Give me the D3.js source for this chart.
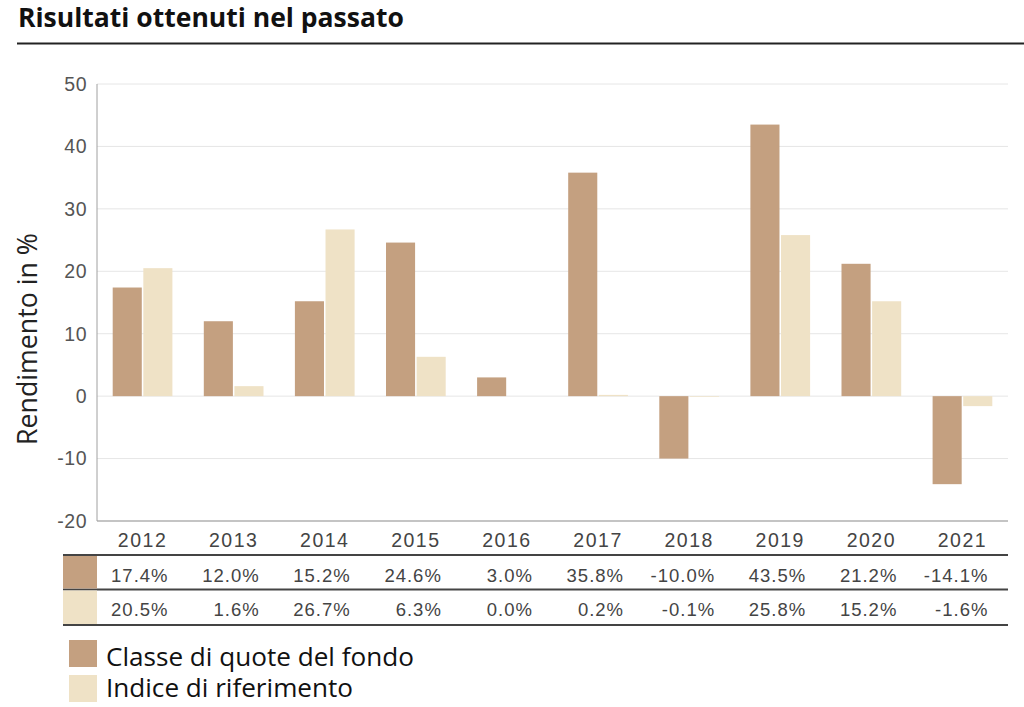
<!DOCTYPE html>
<html><head><meta charset="utf-8">
<script src="https://cdn.jsdelivr.net/npm/d3@7/dist/d3.min.js"></script>
<style>body{margin:0;background:#fff}svg{display:block}</style>
</head><body>
<svg id="c" width="1024" height="707"></svg>
<script>
const years = ["2012","2013","2014","2015","2016","2017","2018","2019","2020","2021"];
const fundValues = [17.4, 12.0, 15.2, 24.6, 3.0, 35.8, -10.0, 43.5, 21.2, -14.1];
const indexValues = [20.5, 1.6, 26.7, 6.3, 0.0, 0.2, -0.1, 25.8, 15.2, -1.6];
const yTicks = [-20, -10, 0, 10, 20, 30, 40, 50];
const seriesNames = ["Classe di quote del fondo", "Indice di riferimento"];
const colors = ["#c4a080", "#efe2c6"];
const titleText = "Risultati ottenuti nel passato";
const yTitle = "Rendimento in %";

const svg = d3.select("#c");
const L = 97, R = 1008, T = 84, B = 521;
const x = d3.scaleBand().domain(years).range([L, R]);
const bw = x.bandwidth();
const pad = 15.7;
const xs = d3.scaleBand().domain([0,1]).range([pad, bw - pad]).paddingInner(0.05);
const y = d3.scaleLinear().domain([-20, 50]).range([B, T]);

function fit(sel, w){
  const n = sel.node(); const len = n.getComputedTextLength();
  const fs = parseFloat(sel.attr("font-size"));
  const nfs = fs * w / len;
  sel.attr("font-size", nfs);
  return nfs;
}

// title
const t = svg.append("text").attr("x", 18).attr("y", 27).attr("font-family","Open Sans, Noto Sans, sans-serif")
  .attr("font-weight","bold").attr("font-size",24).attr("fill","#111").text(titleText);
fit(t, 386);
svg.append("line").attr("x1",17).attr("x2",1024).attr("y1",43.5).attr("y2",43.5).attr("stroke","#222").attr("stroke-width",2);

// grid
svg.append("g").selectAll("line").data(yTicks).join("line")
  .attr("x1", L).attr("x2", R).attr("y1", d=>y(d)).attr("y2", d=>y(d))
  .attr("stroke", d => d === -20 ? "#b0b0b0" : "#e6e6e6").attr("stroke-width", d=> d===-20?1.5:1);
svg.append("line").attr("x1",L).attr("x2",L).attr("y1",T).attr("y2",B).attr("stroke","#a0a0a0").attr("stroke-width",1);

// y labels
svg.append("g").selectAll("text").data(yTicks).join("text")
  .attr("x", 87).attr("y", d=>y(d)).attr("dy","0.35em").attr("text-anchor","end")
  .attr("font-family","Liberation Sans, Arial, sans-serif").attr("font-size",19.5).attr("letter-spacing",0.5).attr("fill","#555")
  .text(d=>d);

// y title
const yt = svg.append("text").attr("transform","translate(37,339) rotate(-90)").attr("text-anchor","middle")
  .attr("font-family","Open Sans, Noto Sans, sans-serif").attr("font-size",22).attr("fill","#222").text(yTitle);
fit(yt, 212);

// bars
const series = [fundValues, indexValues];
series.forEach((vals, si) => {
  svg.append("g").selectAll("rect").data(vals).join("rect")
    .attr("x", (d,i) => x(years[i]) + xs(si))
    .attr("width", xs.bandwidth())
    .attr("y", d => y(Math.max(0,d)))
    .attr("height", d => Math.abs(y(d) - y(0)))
    .attr("fill", colors[si]);
});

// year labels
svg.append("g").selectAll("text").data(years).join("text")
  .attr("x", d => x(d) + bw/2).attr("y", 547).attr("text-anchor","middle")
  .attr("font-family","Liberation Sans, Arial, sans-serif").attr("font-size",19.5).attr("letter-spacing",1.5).attr("fill","#444").text(d=>d);

// table
const TL = 63;
[555, 589.5, 625].forEach(yy => {
  svg.append("line").attr("x1",TL).attr("x2",R).attr("y1",yy).attr("y2",yy).attr("stroke","#444").attr("stroke-width",2);
});
svg.append("rect").attr("x",TL).attr("y",556).attr("width",L-TL).attr("height",32.5).attr("fill",colors[0]);
svg.append("rect").attr("x",TL).attr("y",590.5).attr("width",L-TL).attr("height",33.5).attr("fill",colors[1]);
const rowY = [582, 616];
series.forEach((vals, si) => {
  svg.append("g").selectAll("text").data(vals).join("text")
    .attr("x", (d,i) => x(years[i]) + bw/2 + 26).attr("y", rowY[si]).attr("text-anchor","end")
    .attr("font-family","Liberation Sans, Arial, sans-serif").attr("font-size",18.5).attr("letter-spacing",1).attr("fill","#444")
    .text(d => d.toFixed(1) + "%");
});

// legend
const legY = [640, 675];
const legBase = [666, 697];
let legFs = 24;
seriesNames.forEach((name, i) => {
  svg.append("rect").attr("x",69).attr("y",legY[i]).attr("width",28).attr("height",27).attr("fill",colors[i]);
  const lt = svg.append("text").attr("x",106).attr("y",legBase[i]).attr("font-family","Open Sans, Noto Sans, sans-serif")
    .attr("font-size",legFs).attr("fill","#111").text(name);
  if (i===0) legFs = fit(lt, 308);
});
</script>
</body></html>
